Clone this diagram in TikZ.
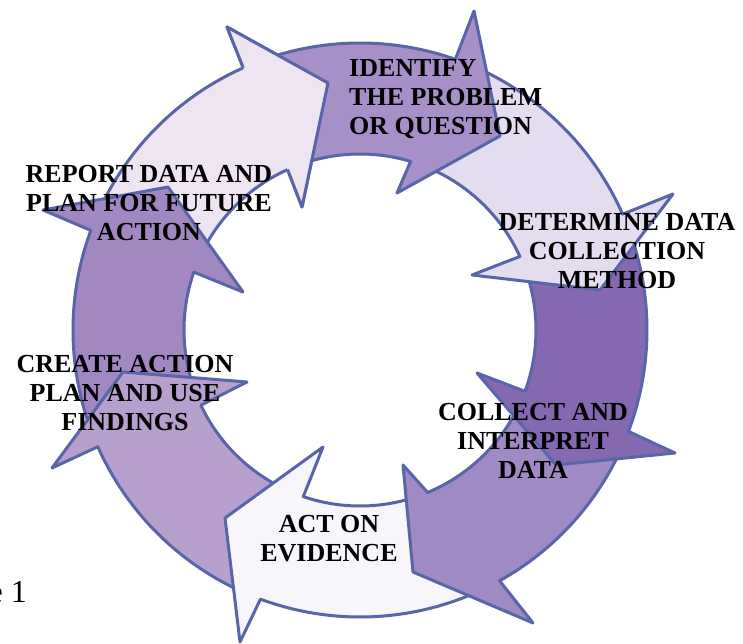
\documentclass[tikz,border=0pt]{standalone}
\usepackage{fontspec}
\setmainfont{Liberation Serif}
\usetikzlibrary{calc}
\definecolor{edgeblue}{RGB}{90,100,168}
\definecolor{colH}{RGB}{238,228,242}
\definecolor{colA}{RGB}{167,144,200}
\definecolor{colB}{RGB}{228,220,239}
\definecolor{colC}{RGB}{132,104,176}
\definecolor{colD}{RGB}{160,138,195}
\definecolor{colE}{RGB}{248,245,251}
\definecolor{colF}{RGB}{183,160,206}
\definecolor{colG}{RGB}{162,136,193}
% #1 colour, #2 tail angle (outer), #3 tail angle (inner), #4 outer notch angle,
% #5 inner notch angle, #6 outer barb, #7 tip, #8 inner barb
\newcommand\ringarrow[8]{%
  \path[ringarr, fill=#1] ($(C)+(#2:287)$) arc[start angle=#2, end angle=#4, radius=287]
    -- #6 -- #7 -- #8 -- ($(C)+(#5:176)$) arc[start angle=#5, end angle=#3, radius=176] -- cycle;}
\begin{document}
\begin{tikzpicture}[x=1pt,y=1pt,
  ringarr/.style={draw=edgeblue, line width=3pt, line join=round},
  lbl/.style={font=\fontsize{26}{29}\selectfont\bfseries, align=center, inner sep=0pt, text=black}]
\useasboundingbox (0,0) rectangle (743,643);
\coordinate (C) at (360,313);
% arrows, drawn counter-clockwise so each head lies over the next tail
\ringarrow{colH}{156}{156}{114}{114.3}{(227,616)}{(328,560)}{(302,436)}
\ringarrow{colG}{201}{201}{159.7}{160.8}{(43,433)}{(168,456)}{(243,351)}
\ringarrow{colF}{-114}{-114}{-156}{-154.7}{(52,175)}{(123,271)}{(247,261)}
\ringarrow{colE}{-64}{-70}{-110.3}{-108.8}{(240,1)}{(225,125)}{(323,196)}
\ringarrow{colD}{-24}{-24}{-60.9}{-67.4}{(533,20)}{(413,71)}{(403,178)}
\ringarrow{colC}{21}{21}{-20.7}{-20.4}{(675,190)}{(556,178)}{(477,270)}
\ringarrow{colB}{67}{67}{23.8}{24.7}{(673,449)}{(600,353)}{(472,368)}
\ringarrow{colA}{110}{110}{70.6}{73.3}{(474,632)}{(500,507)}{(397,450)}
% head of the first arrow, redrawn over the tail of the last
\fill[colH] ($(C)+(114:287)$) -- (227,616) -- (328,560) -- (302,436) -- ($(C)+(114.3:176)$) -- cycle;
\draw[ringarr] ($(C)+(114:287)$) -- (227,616) -- (328,560) -- (302,436) -- ($(C)+(114.3:176)$);
% labels
\node[lbl, align=left, anchor=north west] (identify) at (349,584) {IDENTIFY\\THE PROBLEM\\OR QUESTION};
\node[lbl, anchor=north] (report) at (149,478) {REPORT DATA AND\\PLAN FOR FUTURE\\ACTION};
\node[lbl, anchor=north] (determine) at (617,430) {DETERMINE DATA\\COLLECTION\\METHOD};
\node[lbl, anchor=north] (create) at (125,288) {CREATE ACTION\\PLAN AND USE\\FINDINGS};
\node[lbl, anchor=north] (collect) at (533,240) {COLLECT AND\\INTERPRET\\DATA};
\node[lbl, anchor=north] (act) at (329,128) {ACT ON\\EVIDENCE};
\node[font=\fontsize{32}{36}\selectfont, inner sep=0pt, anchor=base east] (fig) at (27,41) {e 1};
\end{tikzpicture}
\end{document}
